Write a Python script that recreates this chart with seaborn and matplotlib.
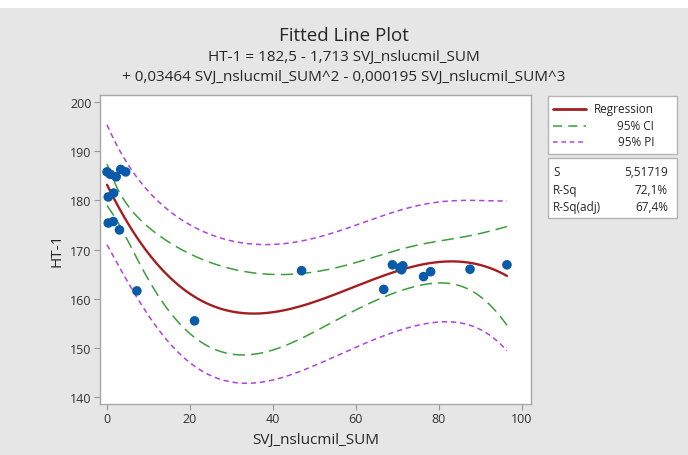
import numpy as np
import pandas as pd
import matplotlib
matplotlib.use("Agg")
import matplotlib.pyplot as plt
from matplotlib.patches import Rectangle
from matplotlib.lines import Line2D
import seaborn as sns

# 数据
svj = [0.0, 0.8, 2.2, 3.3, 4.5, 0.3, 1.6, 0.3, 1.5, 3.0, 7.2, 21.1,
       46.9, 66.7, 68.8, 70.6, 71.0, 71.3, 76.3, 78.0, 87.5, 96.4]
ht1 = [185.8, 185.3, 184.8, 186.3, 185.8, 180.7, 181.5, 175.4, 175.7, 174.0, 161.6, 155.5,
       165.7, 161.9, 166.9, 166.3, 165.9, 166.7, 164.5, 165.5, 166.0, 166.9]
title = "Fitted Line Plot"
eq_line1 = "HT-1 = 182,5 - 1,713 SVJ_nslucmil_SUM"
eq_line2 = "+ 0,03464 SVJ_nslucmil_SUM^2 - 0,000195 SVJ_nslucmil_SUM^3"
legend_labels = ["Regression", "95% CI", "95% PI"]
stat_names = ["S", "R-Sq", "R-Sq(adj)"]
stat_values = ["5,51719", "72,1%", "67,4%"]
x_ticks = [0, 20, 40, 60, 80, 100]
y_ticks = [140, 150, 160, 170, 180, 190, 200]

sns.set_style("white")
plt.rcParams['font.family'] = ['Open Sans', 'DejaVu Sans']

df = pd.DataFrame({"SVJ_nslucmil_SUM": svj, "HT-1": ht1})

# 三次多项式拟合，计算置信区间和预测区间
x = np.array(svj)
y = np.array(ht1)
X = np.vander(x, 4)
beta, *_ = np.linalg.lstsq(X, y, rcond=None)
resid = y - X @ beta
dof = len(x) - 4
s = np.sqrt(resid @ resid / dof)
t = 2.101  # t(0.975, 18)
xg = np.linspace(x.min(), x.max(), 200)
Xg = np.vander(xg, 4)
yg = Xg @ beta
lev = np.einsum("ij,jk,ik->i", Xg, np.linalg.inv(X.T @ X), Xg)
ci = t * s * np.sqrt(lev)
pi = t * s * np.sqrt(1 + lev)
fit = pd.DataFrame({"x": xg, "fit": yg, "ci_lo": yg - ci, "ci_hi": yg + ci,
                    "pi_lo": yg - pi, "pi_hi": yg + pi})

bg = "#e6e6e6"
fig = plt.figure(figsize=(6.88, 4.56), dpi=100, facecolor=bg)
ax = fig.add_axes([0.1453, 0.112, 0.6265, 0.677])

c_reg, c_ci, c_pi = "#a31f1f", "#3a9e3a", "#b042e0"
sns.lineplot(data=fit, x="x", y="pi_hi", ax=ax, color=c_pi, lw=1.1, linestyle=(0, (3.5, 2.5)))
sns.lineplot(data=fit, x="x", y="pi_lo", ax=ax, color=c_pi, lw=1.1, linestyle=(0, (3.5, 2.5)))
sns.lineplot(data=fit, x="x", y="ci_hi", ax=ax, color=c_ci, lw=1.1, linestyle=(0, (8, 4)))
sns.lineplot(data=fit, x="x", y="ci_lo", ax=ax, color=c_ci, lw=1.1, linestyle=(0, (8, 4)))
sns.lineplot(data=fit, x="x", y="fit", ax=ax, color=c_reg, lw=1.7)
sns.scatterplot(data=df, x="SVJ_nslucmil_SUM", y="HT-1", ax=ax, color="#0a5aaa",
                s=48, edgecolor="none", zorder=5)

ax.set_xlim(-1.7, 102.2)
ax.set_ylim(138.6, 201.4)
ax.set_xticks(x_ticks)
ax.set_yticks(y_ticks)
ax.tick_params(axis="both", labelsize=9, length=4, width=0.8, color="#999999",
               labelcolor="#333333", direction="out", bottom=True, left=True, pad=2)
ax.set_xlabel("SVJ_nslucmil_SUM", fontsize=11, labelpad=5)
ax.set_ylabel("HT-1", fontsize=11, labelpad=4)
for sp in ax.spines.values():
    sp.set_color("#a8a8a8")
    sp.set_linewidth(1.0)

W, H = 688, 456


def fx(px):
    return px / W


def fy(py):
    return 1 - py / H


# 顶部白边
fig.patches.append(Rectangle((0, fy(9)), 1, 9 / H, transform=fig.transFigure,
                             facecolor="white", edgecolor="none"))

fig.text(0.5, fy(36), title, ha="center", va="center", fontsize=13.5)
fig.text(0.5, fy(57), eq_line1, ha="center", va="center", fontsize=11)
fig.text(0.5, fy(77), eq_line2, ha="center", va="center", fontsize=11)

# 图例框
for (y0, y1) in [(97, 155), (159, 219)]:
    fig.patches.append(Rectangle((fx(548), fy(y1)), fx(677) - fx(548), (y1 - y0) / H,
                                 transform=fig.transFigure, facecolor="white",
                                 edgecolor="#b4b4b4", lw=1.0))
styles = [dict(color=c_reg, lw=2.0, ls="-"),
          dict(color=c_ci, lw=1.1, ls=(0, (6, 4))),
          dict(color=c_pi, lw=1.1, ls=(0, (3, 2.5)))]
for i, (lab, st) in enumerate(zip(legend_labels, styles)):
    yy = 110 + i * 16.5
    fig.lines.append(Line2D([fx(553), fx(586)], [fy(yy), fy(yy)], transform=fig.transFigure, **st))
    fig.text(fx(654), fy(yy), lab, ha="right", va="center", fontsize=8.5)
for i, (nm, val) in enumerate(zip(stat_names, stat_values)):
    yy = 173 + i * 17.5
    fig.text(fx(553), fy(yy), nm, ha="left", va="center", fontsize=8.5)
    fig.text(fx(668), fy(yy), val, ha="right", va="center", fontsize=8.5)

fig.savefig("out.png", dpi=100, facecolor=bg)
